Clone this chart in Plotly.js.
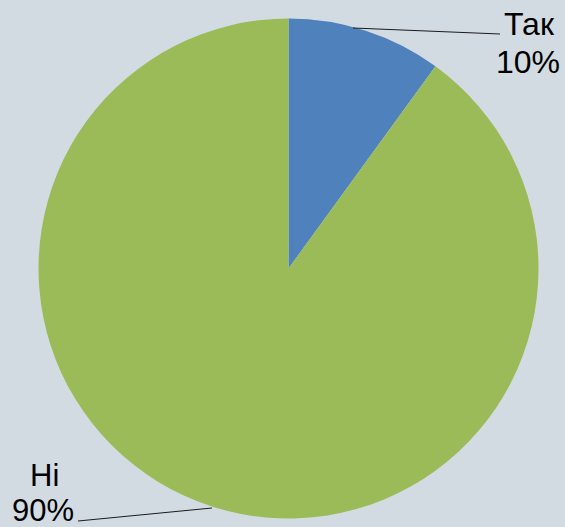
<!DOCTYPE html>
<html><head><meta charset="utf-8">
<script src="https://cdn.plot.ly/plotly-3.0.1.min.js"></script>
<style>html,body{margin:0;padding:0;background:#d2dbe2;}</style>
</head><body><div id="chart" style="width:565px;height:527px;"></div>
<script>
const categories = ["Так", "Ні"];
const values = [10, 90];
const colors = ["#4f81bd", "#9bbb59"];

const W = 565, H = 527;
const px = x => x / W, py = y => 1 - y / H;
const total = values.reduce((a, b) => a + b, 0);
const pct = values.map(v => Math.round(v / total * 100) + "%");

const labelPos = [
  {name: [529, 24], pct: [528, 62], line: [353, 28, 500, 34], size: 32},
  {name: [44, 475], pct: [43, 510], line: [212, 508, 78, 521], size: 31}
];
const annotations = [], shapes = [];
categories.forEach((c, i) => {
  const p = labelPos[i];
  const font = {family: "Liberation Sans, Arial, sans-serif", size: p.size, color: "#000"};
  annotations.push({text: c, x: px(p.name[0]), y: py(p.name[1]), xref: "paper", yref: "paper", showarrow: false, xanchor: "center", yanchor: "middle", font});
  annotations.push({text: pct[i], x: px(p.pct[0]), y: py(p.pct[1]), xref: "paper", yref: "paper", showarrow: false, xanchor: "center", yanchor: "middle", font});
  shapes.push({type: "line", xref: "paper", yref: "paper", x0: px(p.line[0]), y0: py(p.line[1]), x1: px(p.line[2]), y1: py(p.line[3]), line: {color: "#1a1a1a", width: 1}});
});

const cx = 288.5, cy = 268.5, r = 250;
Plotly.newPlot("chart", [{
  type: "pie",
  labels: categories,
  values: values,
  sort: false,
  direction: "clockwise",
  rotation: 0,
  textinfo: "none",
  hoverinfo: "label+percent",
  marker: {colors: colors, line: {width: 0}},
  domain: {x: [px(cx - r), px(cx + r)], y: [py(cy + r), py(cy - r)]}
}], {
  width: W, height: H,
  margin: {l: 0, r: 0, t: 0, b: 0},
  paper_bgcolor: "#d2dbe2",
  plot_bgcolor: "#d2dbe2",
  showlegend: false,
  annotations: annotations,
  shapes: shapes
}, {displayModeBar: false, staticPlot: true});
</script></body></html>
